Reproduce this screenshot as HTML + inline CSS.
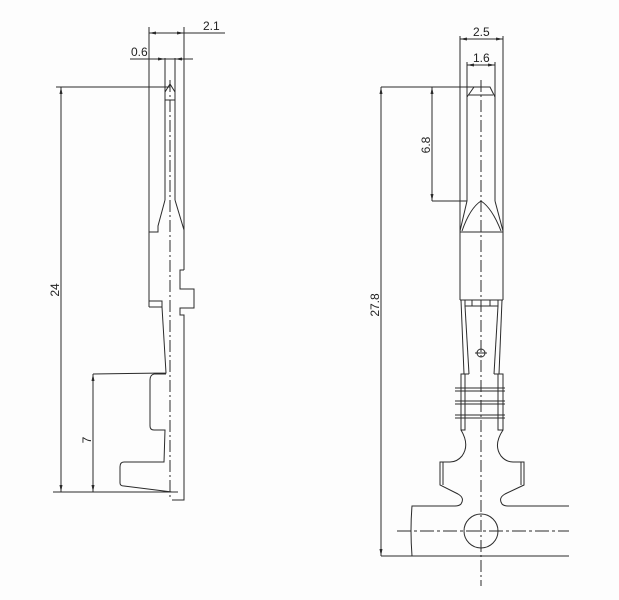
<!DOCTYPE html>
<html><head><meta charset="utf-8"><style>
html,body{margin:0;padding:0;background:#fff;}
svg{display:block;}
text{font-family:"Liberation Sans",sans-serif;font-size:12px;fill:#222;}
</style></head><body>
<svg width="619" height="600" viewBox="0 0 619 600" xmlns="http://www.w3.org/2000/svg">
<rect width="619" height="600" fill="#fdfdfd"/>
<g fill="none" stroke="#2a2a2a" stroke-width="1">
<!-- LEFT VIEW -->
<line x1="149" y1="27" x2="149" y2="307"/>
<line x1="184" y1="27" x2="184" y2="270"/>
<line x1="149" y1="33" x2="225" y2="33"/>
<line x1="130" y1="59" x2="193" y2="59"/>
<line x1="165" y1="58" x2="165" y2="200"/>
<line x1="175" y1="58" x2="175" y2="200"/>
<polyline points="165,92 170,84 175,92"/>
<line x1="165" y1="100" x2="175" y2="100"/>
<polyline points="165,200 158,226 158,232 149,232"/>
<polyline points="175,200 184,230"/>
<polyline points="184,270 180,270 180,289 194,289 194,308 180,308 180,315 184,315 184,500 172,500"/>
<polyline points="149,301 162,301 162,307 149,307"/>
<polyline points="162,307 166,373 93,374"/>
<path d="M166,374 L154,374 Q150,375 150,380 L150,426 Q150,430 154,430 L165,430 L164,462 L124,462 Q120,462 120,467 L120,483 Q120,486 124,486 L172,492"/>
<line x1="53" y1="492" x2="178" y2="492"/>
<line x1="56" y1="87" x2="170" y2="87"/>
<line x1="61" y1="87" x2="61" y2="492"/>
<line x1="93" y1="374" x2="93" y2="492"/>
<line x1="170" y1="80" x2="170" y2="497" stroke-dasharray="12,3,2,3"/>

<!-- RIGHT VIEW -->
<line x1="460" y1="36" x2="460" y2="300"/>
<line x1="503" y1="36" x2="503" y2="300"/>
<line x1="460" y1="39" x2="503" y2="39"/>
<line x1="467" y1="62" x2="467" y2="201"/>
<line x1="495" y1="62" x2="495" y2="201"/>
<line x1="467" y1="65" x2="495" y2="65"/>
<polyline points="467,97 474,87 490,87 495,97"/>
<line x1="469" y1="95" x2="493" y2="95"/>
<polyline points="467,201 460,231"/>
<polyline points="495,201 503,231"/>
<path d="M462,231 Q470,208 481,201 Q492,208 501,231"/>
<line x1="460" y1="232" x2="503" y2="232"/>
<line x1="381" y1="87" x2="474" y2="87"/>
<line x1="381" y1="87" x2="381" y2="556"/>
<line x1="432" y1="87" x2="432" y2="201"/>
<line x1="432" y1="201" x2="467" y2="201"/>
<line x1="460" y1="300" x2="503" y2="300"/>
<polyline points="465,300 465,306 472,306 472,300"/>
<polyline points="498,300 498,306 490,306 490,300"/>
<line x1="472" y1="306" x2="490" y2="306"/>
<line x1="461" y1="300" x2="464" y2="374"/>
<line x1="465" y1="306" x2="469" y2="374"/>
<line x1="502" y1="300" x2="499" y2="374"/>
<line x1="498" y1="306" x2="494" y2="374"/>
<circle cx="481" cy="353" r="4"/>
<line x1="475" y1="353" x2="487" y2="353"/>
<line x1="461" y1="374" x2="469" y2="374"/>
<line x1="494" y1="374" x2="503" y2="374"/>
<rect x="461" y="374" width="4" height="56"/>
<rect x="498" y="374" width="5" height="56"/>
<line x1="455" y1="388" x2="505" y2="388"/><line x1="455" y1="391" x2="505" y2="391"/>
<line x1="455" y1="401" x2="505" y2="401"/><line x1="455" y1="404" x2="505" y2="404"/>
<line x1="455" y1="415" x2="505" y2="415"/><line x1="455" y1="418" x2="505" y2="418"/>
<path d="M461,430 Q470,445 462,456 Q457,462 450,462 L440,462 L440,485 L458,494 Q465,498 461,504 Q459,506 455,506 L412,506 Q410,530 412,556"/>
<line x1="443" y1="462" x2="443" y2="485"/>
<path d="M503,430 Q493,445 501,456 Q506,462 513,462 L524,462 L524,485 L505,494 Q498,498 502,504 Q504,506 508,506 L569,506"/>
<line x1="521" y1="462" x2="521" y2="485"/>
<circle cx="481" cy="531" r="17"/>
<line x1="397" y1="531" x2="569" y2="531" stroke-dasharray="14,3,3,3"/>
<line x1="381" y1="556" x2="569" y2="556"/>
<line x1="481" y1="80" x2="481" y2="586" stroke-dasharray="12,3,2,3"/>
</g>
<g fill="#2a2a2a">
<polygon points="149,33 156,31.5 156,34.5"/><polygon points="184,33 177,31.5 177,34.5"/>
<polygon points="165,59 158,57.5 158,60.5"/><polygon points="175,59 182,57.5 182,60.5"/>
<polygon points="61,87 59.5,94 62.5,94"/><polygon points="61,492 59.5,485 62.5,485"/>
<polygon points="93,374 91.5,381 94.5,381"/><polygon points="93,492 91.5,485 94.5,485"/>
<polygon points="460,39 467,37.5 467,40.5"/><polygon points="503,39 496,37.5 496,40.5"/>
<polygon points="467,65 474,63.5 474,66.5"/><polygon points="495,65 488,63.5 488,66.5"/>
<polygon points="381,87 379.5,94 382.5,94"/><polygon points="381,556 379.5,549 382.5,549"/>
<polygon points="432,87 430.5,94 433.5,94"/><polygon points="432,201 430.5,194 433.5,194"/>
</g>
<g>
<text x="203" y="30">2.1</text>
<text x="131" y="56">0.6</text>
<text transform="translate(59,290) rotate(-90)" text-anchor="middle">24</text>
<text transform="translate(91,440) rotate(-90)" text-anchor="middle">7</text>
<text x="473" y="36">2.5</text>
<text x="473" y="62">1.6</text>
<text transform="translate(430,145) rotate(-90)" text-anchor="middle">6.8</text>
<text transform="translate(379,305) rotate(-90)" text-anchor="middle">27.8</text>
</g>
</svg>
</body></html>
